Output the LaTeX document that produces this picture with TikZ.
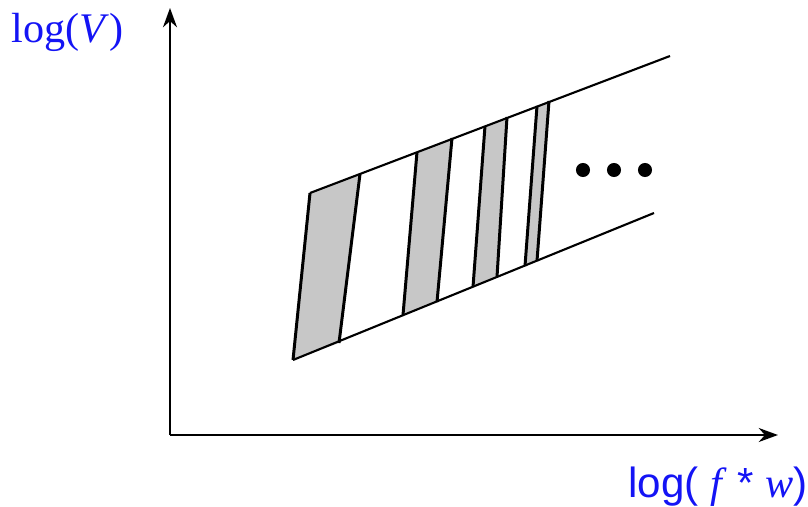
\documentclass[tikz,border=0pt]{standalone}
\usepackage{fontspec}
\setmainfont{Liberation Serif}
\setsansfont{Liberation Sans}
\usetikzlibrary{arrows.meta}
\definecolor{Ejecolor}{RGB}{20,20,245}

\begin{document}
\begin{tikzpicture}[
  x=0.02cm, y=-0.02cm,
  eje/.style={line width=1.1pt, -{Stealth[length=11pt, width=8pt]}},
  banda/.style={line width=1.2pt},
  franja/.style={fill=black!22},
  borde/.style={line width=1.7pt},
  etiq/.style={text=Ejecolor, inner sep=0pt, font=\fontsize{24}{28}\selectfont},
  punto/.style={circle, fill=black, inner sep=0pt, minimum size=8pt}
]
  \useasboundingbox (0,0) rectangle (808,507);

  % --- Ejes ---
  \coordinate (origen) at (170,435);
  \coordinate (ytope)  at (170,8);
  \coordinate (xtope)  at (778,435);
  \draw[eje] (origen) -- (ytope);
  \draw[eje] (origen) -- (xtope);

  % --- Etiquetas de los ejes ---
  \node[etiq, anchor=base west] (ylab) at (11,42) {log(\textit{V})};
  \node[etiq, anchor=base west] (xlab) at (628,497)
    {\sffamily log( \rmfamily\textit{f} \sffamily* \rmfamily\textit{w}\sffamily)};

  % --- Franjas sombreadas ---
  \fill[franja] (310,193) -- (360,174) -- (339,343) -- (293,360) -- cycle;
  \fill[franja] (417,152) -- (452,138) -- (437,302) -- (403,315) -- cycle;
  \fill[franja] (485,126) -- (507,117) -- (497,277) -- (473,287) -- cycle;
  \fill[franja] (537,106) -- (549,101) -- (537,261) -- (525,266) -- cycle;
  \draw[borde] (310,193) -- (293,360)  (360,174) -- (339,343);
  \draw[borde] (417,152) -- (403,315)  (452,138) -- (437,302);
  \draw[borde] (485,126) -- (473,287)  (507,117) -- (497,277);
  \draw[borde] (537,106) -- (525,266)  (549,101) -- (537,261);

  % --- Banda ---
  \coordinate (sup1) at (310,193);
  \coordinate (sup2) at (670,56);
  \coordinate (inf1) at (293,360);
  \coordinate (inf2) at (654,213);
  \draw[banda] (sup1) -- (sup2);
  \draw[banda] (inf1) -- (inf2);

  % --- Puntos suspensivos ---
  \node[punto] (p1) at (583,170) {};
  \node[punto] (p2) at (614,170) {};
  \node[punto] (p3) at (645,170) {};
\end{tikzpicture}
\end{document}
